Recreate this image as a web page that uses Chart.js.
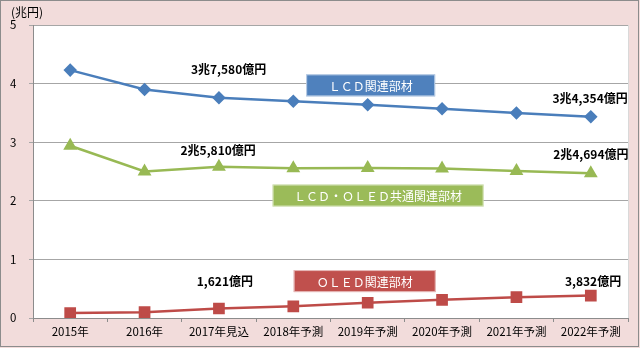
<!DOCTYPE html>
<html>
<head>
<meta charset="utf-8">
<script src="https://cdn.jsdelivr.net/npm/chart.js@4/dist/chart.umd.min.js"></script>
<style>
  html, body { margin: 0; padding: 0; background: #fff; }
  #wrap { width: 640px; height: 348px; }
</style>
</head>
<body>
<div id="wrap"><canvas id="myChart" width="640" height="348"></canvas></div>
<script>
// categories and series (兆円)
const years = ['2015年', '2016年', '2017年見込', '2018年予測', '2019年予測', '2020年予測', '2021年予測', '2022年予測'];
const lcdValues = [4.23, 3.90, 3.758, 3.70, 3.64, 3.57, 3.50, 3.4354];
const commonValues = [2.94, 2.50, 2.581, 2.555, 2.56, 2.55, 2.51, 2.4694];
const oledValues = [0.085, 0.10, 0.1621, 0.20, 0.26, 0.31, 0.355, 0.3832];
const yTicks = [0, 1, 2, 3, 4, 5];

// value call-outs: [text, category position, value position]
const valueLabels = [
    ['3兆7,580億円', 2.13, 4.24],
    ['2兆5,810億円', 1.99, 2.855],
    ['1,621億円', 2.08, 0.63],
    ['3兆4,354億円', 6.99, 3.74],
    ['2兆4,694億円', 7.0, 2.79],
    ['3,832億円', 7.03, 0.63],
];

// series name boxes: [text, colour, category position, value position, width]
const nameBoxes = [
    ['ＬＣＤ関連部材', '#4F81BD', 4.04, 3.97, 129],
    ['ＬＣＤ・ＯＬＥＤ共通関連部材', '#9BBB59', 4.14, 2.09, 211],
    ['ＯＬＥＤ関連部材', '#C0504D', 3.96, 0.63, 142],
];

const decorPlugin = {
    id: 'decor',
    beforeDraw(chart) {
        const { ctx, chartArea: a } = chart;
        ctx.save();
        ctx.fillStyle = '#F2DCDB';
        ctx.fillRect(0, 0, chart.width, chart.height);
        ctx.fillStyle = '#FFFFFF';
        ctx.fillRect(a.left, a.top, a.right - a.left, a.bottom - a.top);
        ctx.strokeStyle = '#D9D9D9';
        ctx.lineWidth = 1;
        ctx.beginPath();
        ctx.moveTo(Math.round(a.right) + 0.5, a.top);
        ctx.lineTo(Math.round(a.right) + 0.5, a.bottom);
        ctx.stroke();
        ctx.strokeStyle = '#8C8C8C';
        ctx.strokeRect(0.5, 0.5, chart.width - 2, chart.height - 2);
        ctx.fillStyle = '#000';
        ctx.font = '12px "Noto Sans CJK JP"';
        ctx.textBaseline = 'middle';
        ctx.textAlign = 'left';
        ctx.fillText('(兆円)', 11, 12);
        ctx.restore();
    },
    afterDatasetsDraw(chart) {
        const { ctx } = chart;
        const x = chart.scales.x;
        const y = chart.scales.y;
        ctx.save();
        ctx.textBaseline = 'middle';
        ctx.textAlign = 'center';

        ctx.font = '12px "Noto Sans CJK JP"';
        nameBoxes.forEach(([text, colour, xi, yv, w]) => {
            const cx = x.getPixelForDecimal((xi + 0.5) / years.length);
            const cy = y.getPixelForValue(yv);
            const h = 22;
            ctx.fillStyle = colour;
            ctx.fillRect(cx - w / 2, cy - h / 2, w, h);
            ctx.strokeStyle = 'rgba(255,255,255,0.6)';
            ctx.lineWidth = 1;
            ctx.strokeRect(cx - w / 2 + 0.5, cy - h / 2 + 0.5, w - 1, h - 1);
            ctx.fillStyle = '#FFFFFF';
            ctx.fillText(text, cx, cy + 1);
        });

        ctx.font = 'bold 12px "Noto Sans CJK JP"';
        ctx.fillStyle = '#000';
        valueLabels.forEach(([text, xi, yv]) => {
            const cx = x.getPixelForDecimal((xi + 0.5) / years.length);
            const cy = y.getPixelForValue(yv);
            ctx.fillText(text, cx, cy);
        });
        ctx.restore();
    },
};

const tickFont = { family: '"Noto Sans CJK JP"', size: 11.5 };

new Chart(document.getElementById('myChart').getContext('2d'), {
    type: 'line',
    data: {
        labels: years,
        datasets: [
            {
                label: 'LCD関連部材',
                data: lcdValues,
                borderColor: '#4A7EBB',
                backgroundColor: '#4A7EBB',
                borderWidth: 2.5,
                pointStyle: 'rectRot',
                pointRadius: 5,
                fill: false,
            },
            {
                label: 'LCD・OLED共通関連部材',
                data: commonValues,
                borderColor: '#98B954',
                backgroundColor: '#98B954',
                borderWidth: 2.5,
                pointStyle: 'triangle',
                pointRadius: 5.5,
                fill: false,
            },
            {
                label: 'OLED関連部材',
                data: oledValues,
                borderColor: '#BE4B48',
                backgroundColor: '#BE4B48',
                borderWidth: 2.5,
                pointStyle: 'rect',
                pointRadius: 6.5,
                fill: false,
            },
        ],
    },
    options: {
        responsive: false,
        animation: false,
        layout: { padding: { left: 10, top: 25, right: 12, bottom: 0 } },
        plugins: {
            legend: { display: false },
            tooltip: { enabled: false },
        },
        scales: {
            x: {
                offset: true,
                grid: {
                    offset: true,
                    drawOnChartArea: false,
                    tickLength: 4,
                    color: '#8C8C8C',
                },
                border: { color: '#8C8C8C' },
                ticks: {
                    font: tickFont,
                    color: '#000',
                    maxRotation: 0,
                    autoSkip: false,
                    padding: 3,
                },
                afterFit: (scale) => { scale.height = 30; },
            },
            y: {
                min: 0,
                max: 5,
                afterBuildTicks: (scale) => {
                    scale.ticks = yTicks.map((v) => ({ value: v }));
                },
                grid: {
                    color: '#A6A6A6',
                    tickLength: 4,
                },
                border: { color: '#8C8C8C' },
                ticks: {
                    font: tickFont,
                    color: '#000',
                    crossAlign: 'far',
                },
                afterFit: (scale) => { scale.width = 23; },
            },
        },
    },
    plugins: [decorPlugin],
});
</script>
</body>
</html>
